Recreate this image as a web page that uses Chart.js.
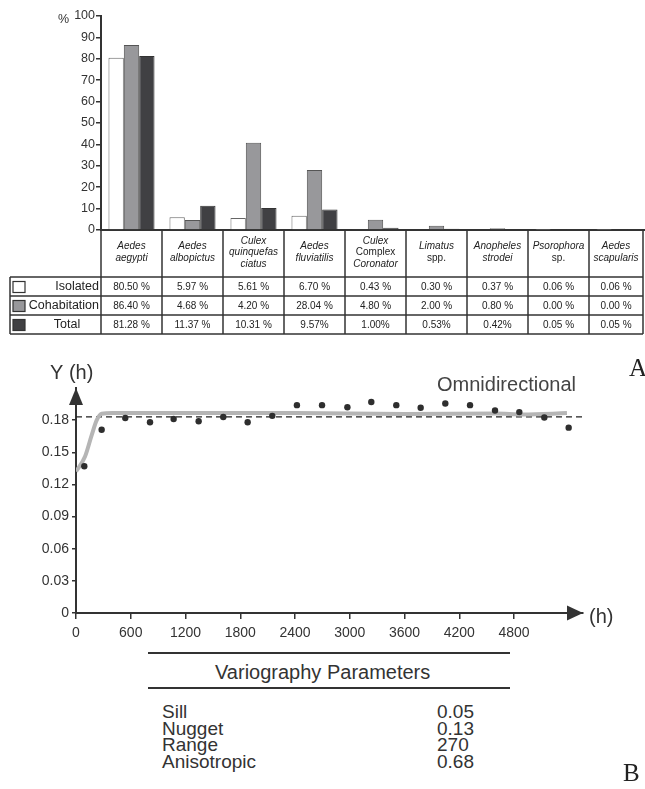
<!DOCTYPE html>
<html>
<head>
<meta charset="utf-8">
<script src="https://cdn.jsdelivr.net/npm/chart.js@4.4.1/dist/chart.umd.min.js"></script>
<style>
  html, body { margin: 0; padding: 0; background: #fff; overflow: hidden; }
  body { width: 645px; height: 789px; position: relative; font-family: "Liberation Sans", Arial, sans-serif; color: #333; }
  #barWrap { position: absolute; left: 0; top: 0; width: 650px; height: 345px; }
  #varioWrap { position: absolute; left: 0; top: 340px; width: 645px; height: 300px; }
  .panel { position: absolute; font-family: "Liberation Serif", "Times New Roman", serif; font-size: 25px; line-height: 25px; color: #222; }
  .rule { position: absolute; left: 148px; width: 362px; height: 2px; background: #333; }
  .ptitle { position: absolute; left: 215px; top: 662px; font-size: 20px; line-height: 20px; white-space: nowrap; }
  .prow { position: absolute; font-size: 19px; line-height: 16.5px; white-space: nowrap; }
</style>
</head>
<body>
<div id="barWrap"><canvas id="barChart" width="650" height="345"></canvas></div>
<div id="varioWrap"><canvas id="varioChart" width="645" height="300"></canvas></div>
<div class="panel" style="left:629px; top:355px;">A</div>
<div class="panel" style="left:623px; top:760px;">B</div>
<div class="rule" style="top:652px;"></div>
<div class="ptitle">Variography Parameters</div>
<div class="rule" style="top:687px;"></div>
<div id="params"></div>

<script>
// Panel A data
const species = ["Aedes aegypti", "Aedes albopictus", "Culex quinquefasciatus", "Aedes fluviatilis",
  "Culex Complex Coronator", "Limatus spp.", "Anopheles strodei", "Psorophora sp.", "Aedes scapularis"];
const headerLines = [["Aedes", "aegypti"], ["Aedes", "albopictus"], ["Culex", "quinquefas", "ciatus"],
  ["Aedes", "fluviatilis"], ["Culex", "Complex", "Coronator"], ["Limatus", "spp."],
  ["Anopheles", "strodei"], ["Psorophora", "sp."], ["Aedes", "scapularis"]];
const plainWords = ["Complex", "spp.", "sp."];

const isolated = [80.5, 5.97, 5.61, 6.7, 0.43, 0.3, 0.37, 0.06, 0.06];
const cohabitation = [86.4, 4.68, 40.8, 28.04, 4.8, 2.0, 0.8, 0, 0];
const total = [81.28, 11.37, 10.31, 9.57, 1.0, 0.53, 0.42, 0.05, 0.05];

const rowLabels = ["Isolated", "Cohabitation", "Total"];
const isolatedText = ["80.50 %", "5.97 %", "5.61 %", "6.70 %", "0.43 %", "0.30 %", "0.37 %", "0.06 %", "0.06 %"];
const cohabitationText = ["86.40 %", "4.68 %", "4.20 %", "28.04 %", "4.80 %", "2.00 %", "0.80 %", "0.00 %", "0.00 %"];
const totalText = ["81.28 %", "11.37 %", "10.31 %", "9.57%", "1.00%", "0.53%", "0.42%", "0.05 %", "0.05 %"];

// Panel B data
const lagHours = [91, 281, 540, 811, 1070, 1344, 1614, 1881, 2151, 2421, 2696,
  2974, 3236, 3510, 3777, 4047, 4318, 4592, 4858, 5132, 5399];
const semivariance = [0.137, 0.171, 0.182, 0.178, 0.181, 0.179, 0.183, 0.178, 0.184, 0.194, 0.194,
  0.192, 0.197, 0.194, 0.1915, 0.1955, 0.194, 0.189, 0.1875, 0.1825, 0.173];
const modelHours = [0, 99, 172, 227, 281, 400, 1200, 2400, 3600, 4600, 4900, 5380];
const modelValues = [0.132, 0.146, 0.166, 0.180, 0.186, 0.1866, 0.1866, 0.1866, 0.1858, 0.1862, 0.1853, 0.1866];
const sillLevel = 0.183;
const lagTicks = [0, 600, 1200, 1800, 2400, 3000, 3600, 4200, 4800];
const gammaTicks = [0, 0.03, 0.06, 0.09, 0.12, 0.15, 0.18];

const paramNames = ["Sill", "Nugget", "Range", "Anisotropic"];
const paramValues = ["0.05", "0.13", "270", "0.68"];

Chart.defaults.font.family = '"Liberation Sans", Arial, sans-serif';
Chart.defaults.color = '#333';

const FONT = '"Liberation Sans", Arial, sans-serif';
const seriesFill = ['#ffffff', '#98989b', '#404043'];

// Table under the bars, drawn on the category scale
const speciesTable = {
  id: 'speciesTable',
  afterDraw(chart) {
    const { ctx, chartArea: a } = chart;
    const n = species.length;
    const colW = (a.right - a.left) / n;
    const bounds = [];
    for (let i = 0; i < n; i++) bounds.push(a.left + i * colW);
    bounds.push(643);
    const headBottom = a.bottom + 47;
    const rowH = 19;
    const rows = [isolatedText, cohabitationText, totalText];
    const tableBottom = headBottom + rowH * rows.length;

    function line(x1, y1, x2, y2) {
      ctx.beginPath(); ctx.moveTo(x1, y1); ctx.lineTo(x2, y2); ctx.stroke();
    }
    ctx.save();
    ctx.strokeStyle = '#333';
    ctx.lineWidth = 1.5;
    bounds.forEach(bx => line(bx, a.bottom, bx, tableBottom));
    line(10, headBottom, 10, tableBottom);
    for (let r = 0; r <= rows.length; r++) line(10, headBottom + r * rowH, 643, headBottom + r * rowH);

    ctx.fillStyle = '#222';
    ctx.textAlign = 'center';
    ctx.textBaseline = 'middle';
    headerLines.forEach((lines, i) => {
      const cx = (bounds[i] + bounds[i + 1]) / 2;
      const y0 = a.bottom + 22.5 - (lines.length - 1) * 11.7 / 2;
      lines.forEach((t, k) => {
        ctx.font = (plainWords.includes(t) ? '' : 'italic ') + '10px ' + FONT;
        ctx.fillText(t, cx, y0 + k * 11.7);
      });
    });

    ctx.font = '10px ' + FONT;
    rows.forEach((vals, r) => {
      const cy = headBottom + r * rowH + rowH / 2 + 1;
      vals.forEach((t, i) => ctx.fillText(t, (bounds[i] + bounds[i + 1]) / 2, cy));
    });

    // legend squares and row labels
    ctx.font = '12.5px ' + FONT;
    rowLabels.forEach((lab, r) => {
      const cy = headBottom + r * rowH + rowH / 2 + 0.5;
      ctx.fillStyle = seriesFill[r];
      ctx.fillRect(13, cy - 5.5, 12, 11);
      ctx.lineWidth = 1.2;
      ctx.strokeRect(13, cy - 5.5, 12, 11);
      ctx.fillStyle = '#222';
      if (r === 2) { ctx.textAlign = 'center'; ctx.fillText(lab, 67, cy); }
      else { ctx.textAlign = 'right'; ctx.fillText(lab, 99, cy); }
    });

    ctx.textAlign = 'left';
    ctx.font = '12.5px ' + FONT;
    ctx.fillStyle = '#333';
    ctx.fillText('%', 58, 20);
    ctx.restore();
  }
};

new Chart(document.getElementById('barChart'), {
  type: 'bar',
  data: {
    labels: species,
    datasets: [
      { label: 'Isolated', data: isolated, backgroundColor: seriesFill[0], borderColor: '#666', borderWidth: 1 },
      { label: 'Cohabitation', data: cohabitation, backgroundColor: seriesFill[1], borderColor: '#555', borderWidth: 1 },
      { label: 'Total', data: total, backgroundColor: seriesFill[2], borderColor: '#333', borderWidth: 1 }
    ]
  },
  options: {
    responsive: false,
    animation: false,
    layout: { padding: { top: 16, right: 0, left: 0, bottom: 0 } },
    datasets: { bar: { barPercentage: 1, categoryPercentage: 0.755 } },
    plugins: { legend: { display: false }, tooltip: { enabled: false } },
    scales: {
      x: {
        grid: { display: false },
        ticks: { display: false },
        border: { display: true, color: '#333', width: 2 },
        afterFit(s) { s.height = 115; }
      },
      y: {
        min: 0, max: 100,
        ticks: { stepSize: 10, padding: 1, font: { size: 12.5 }, color: '#333' },
        grid: { drawOnChartArea: false, drawTicks: true, tickLength: 5, color: '#333', lineWidth: 1.5 },
        border: { display: true, color: '#333', width: 2 },
        afterFit(s) { s.width = 101; }
      }
    }
  },
  plugins: [speciesTable]
});

// Arrows and captions of the variogram
const variogramDecor = {
  id: 'variogramDecor',
  afterDraw(chart) {
    const { ctx, chartArea: a } = chart;
    ctx.save();
    ctx.fillStyle = '#333';
    ctx.beginPath();
    ctx.moveTo(a.left, a.top);
    ctx.lineTo(a.left - 7, a.top + 17);
    ctx.lineTo(a.left + 7, a.top + 17);
    ctx.closePath(); ctx.fill();
    ctx.beginPath();
    ctx.moveTo(a.right, a.bottom);
    ctx.lineTo(a.right - 16, a.bottom - 7.5);
    ctx.lineTo(a.right - 16, a.bottom + 7.5);
    ctx.closePath(); ctx.fill();
    ctx.font = '20px ' + FONT;
    ctx.textBaseline = 'middle';
    ctx.fillText('Y (h)', 50, 33);
    ctx.fillStyle = '#444';
    ctx.fillText('Omnidirectional', 437, 45);
    ctx.fillStyle = '#333';
    ctx.fillText('(h)', 589, a.bottom + 4);
    ctx.restore();
  }
};

new Chart(document.getElementById('varioChart'), {
  type: 'scatter',
  data: {
    datasets: [
      {
        label: 'experimental',
        data: lagHours.map((h, i) => ({ x: h, y: semivariance[i] })),
        pointRadius: 3.2, pointBackgroundColor: '#2e2e2e', pointBorderWidth: 0
      },
      {
        label: 'model',
        data: modelHours.map((h, i) => ({ x: h, y: modelValues[i] })),
        showLine: true, pointRadius: 0, borderColor: '#b5b5b5', borderWidth: 4,
        cubicInterpolationMode: 'monotone'
      },
      {
        label: 'sill',
        data: [{ x: 0, y: sillLevel }, { x: 5556, y: sillLevel }],
        showLine: true, pointRadius: 0, borderColor: '#222', borderWidth: 1.3, borderDash: [6, 4]
      }
    ]
  },
  options: {
    responsive: false,
    animation: false,
    layout: { padding: { top: 48, right: 62, left: 0, bottom: 0 } },
    plugins: { legend: { display: false }, tooltip: { enabled: false } },
    scales: {
      x: {
        type: 'linear', min: 0, max: 5556,
        afterBuildTicks(s) { s.ticks = lagTicks.map(v => ({ value: v })); },
        ticks: { padding: 6, font: { size: 14 }, color: '#333', callback: v => String(v) },
        grid: { drawOnChartArea: false, drawTicks: true, tickLength: 6, color: '#333', lineWidth: 1.5 },
        border: { display: true, color: '#333', width: 2 },
        afterFit(s) { s.height = 27; }
      },
      y: {
        type: 'linear', min: 0, max: 0.21,
        afterBuildTicks(s) { s.ticks = gammaTicks.map(v => ({ value: v })); },
        ticks: { padding: 3, font: { size: 14 }, color: '#333', callback: v => v === 0 ? '0' : v.toFixed(2) },
        grid: { drawOnChartArea: false, drawTicks: true, tickLength: 4, color: '#333', lineWidth: 1.5 },
        border: { display: true, color: '#333', width: 2 },
        afterFit(s) { s.width = 76; }
      }
    }
  },
  plugins: [variogramDecor]
});

// Variography parameters list
const params = document.getElementById('params');
paramNames.forEach((name, k) => {
  const top = 704 + k * 16.6;
  params.insertAdjacentHTML('beforeend',
    '<div class="prow" style="left:162px; top:' + top + 'px;">' + name + '</div>' +
    '<div class="prow" style="left:437px; top:' + top + 'px;">' + paramValues[k] + '</div>');
});
</script>
</body>
</html>
